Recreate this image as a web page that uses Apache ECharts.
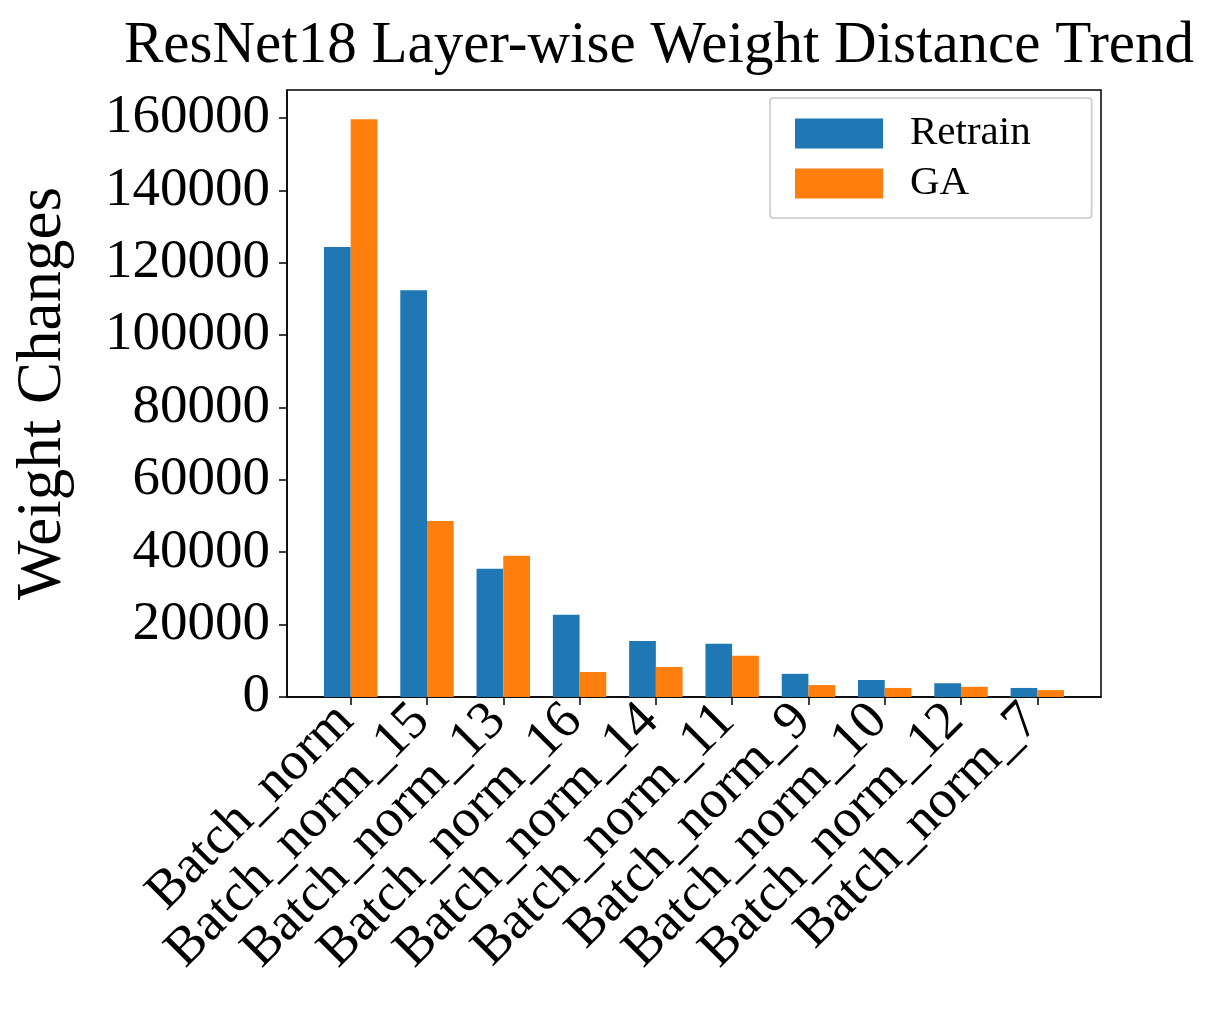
<!DOCTYPE html>
<html>
<head>
<meta charset="utf-8">
<title>ResNet18 Layer-wise Weight Distance Trend</title>
<script src="https://cdn.jsdelivr.net/npm/echarts@6/dist/echarts.min.js"></script>
<style>
    html, body { margin: 0; padding: 0; background: #fff; }
    #main { width: 1206px; height: 1012px; }
</style>
</head>
<body>
<div id="main"></div>
<script>
"use strict"

// 数据
var categories = ["Batch_norm", "Batch_norm_15", "Batch_norm_13", "Batch_norm_16", "Batch_norm_14",
    "Batch_norm_11", "Batch_norm_9", "Batch_norm_10", "Batch_norm_12", "Batch_norm_7"];
var retrainArr = [124300, 112400, 35400, 22700, 15500, 14700, 6400, 4700, 3800, 2500];
var gaArr = [159600, 48600, 39000, 6900, 8300, 11400, 3300, 2500, 2800, 1900];
var yTicks = [0, 20000, 40000, 60000, 80000, 100000, 120000, 140000, 160000];

var FONT = "'Liberation Serif', 'Times New Roman', serif";

showBarCharts();

function showBarCharts() {
    var myChart = echarts.init(document.getElementById("main"));
    var xIdx = categories.map(function (c, i) { return i; });

    var option = {
        animation: false,
        title: {
            text: "ResNet18 Layer-wise Weight Distance Trend",
            left: 654,
            textAlign: "center",
            top: 12,
            textStyle: { fontFamily: FONT, fontSize: 59, fontWeight: "normal", color: "#000" }
        },
        legend: {
            orient: "vertical",
            left: 770,
            top: 98,
            padding: [15, 61, 14, 25],
            itemWidth: 88,
            itemHeight: 30,
            itemGap: 9,
            borderColor: "#d4d4d4",
            borderWidth: 2,
            borderRadius: 3,
            backgroundColor: "#fff",
            icon: "rect",
            textStyle: { fontFamily: FONT, fontSize: 41, color: "#000", padding: [0, 0, 0, 22] },
            data: ["Retrain", "GA"]
        },
        grid: {
            left: 287,
            right: 105,
            top: 90,
            bottom: 315,
            show: true,
            borderColor: "#000",
            borderWidth: 1.5
        },
        xAxis: {
            type: "value",
            min: -0.835,
            max: 9.835,
            splitLine: { show: false },
            axisLine: { show: true, onZero: false, lineStyle: { color: "#000", width: 1.5 } },
            axisTick: { show: true, length: 8, lineStyle: { color: "#000", width: 1.5 }, customValues: xIdx },
            axisLabel: {
                customValues: xIdx,
                rotate: 45,
                margin: 10,
                padding: [0, 8, 0, 0],
                fontFamily: FONT,
                fontSize: 54,
                color: "#000",
                formatter: function (v) { return categories[Math.round(v)]; }
            }
        },
        yAxis: {
            type: "value",
            min: 0,
            max: 167700,
            name: "Weight Changes",
            nameLocation: "middle",
            nameRotate: 90,
            nameGap: 212,
            nameTextStyle: { fontFamily: FONT, fontSize: 63, color: "#000" },
            splitLine: { show: false },
            axisLine: { show: true, onZero: false, lineStyle: { color: "#000", width: 1.5 } },
            axisTick: { show: true, length: 8, lineStyle: { color: "#000", width: 1.5 }, customValues: yTicks },
            axisLabel: {
                customValues: yTicks,
                margin: 17,
                fontFamily: FONT,
                fontSize: 55,
                color: "#000",
                formatter: function (v) { return String(v); }
            }
        },
        series: [{
            name: "Retrain",
            type: "bar",
            barWidth: 26.7,
            barGap: "0%",
            color: "#1f77b4",
            data: retrainArr.map(function (v, i) { return [i, v]; })
        }, {
            name: "GA",
            type: "bar",
            barWidth: 26.7,
            barGap: "0%",
            color: "#ff7f0e",
            data: gaArr.map(function (v, i) { return [i, v]; })
        }]
    };

    option && myChart.setOption(option);
}
</script>
</body>
</html>
